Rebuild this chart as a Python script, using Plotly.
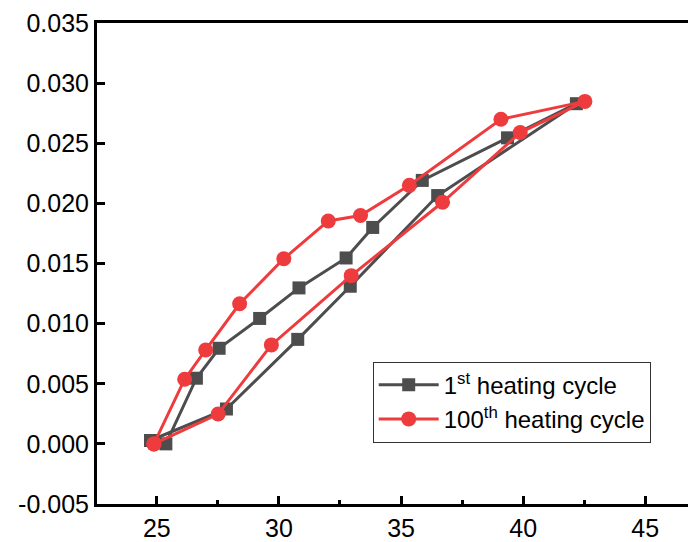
import plotly.graph_objects as go

# 1st heating cycle (squares)
x_first = [24.74, 27.85, 30.77, 32.92, 36.50, 42.18, 39.36, 35.87, 33.84, 32.75, 30.82, 29.21, 27.55, 26.62, 25.37]
y_first = [0.00028, 0.0029, 0.00869, 0.01311, 0.02065, 0.02829, 0.02545, 0.02191, 0.0180, 0.01546, 0.01297, 0.01043, 0.00795, 0.00546, 0.0]

# 100th heating cycle (circles)
x_hundred = [24.88, 26.14, 27.00, 28.39, 30.20, 32.02, 33.34, 35.34, 39.09, 42.53, 39.88, 36.70, 32.96, 29.69, 27.51, 24.88]
y_hundred = [0.0, 0.00538, 0.00781, 0.01165, 0.0154, 0.01854, 0.01899, 0.0215, 0.02699, 0.02848, 0.02589, 0.02009, 0.01399, 0.00823, 0.00248, 0.0]

names = ["1<sup>st</sup> heating cycle", "100<sup>th</sup> heating cycle"]
x_ticks = [25, 30, 35, 40, 45]
y_ticks = [-0.005, 0.000, 0.005, 0.010, 0.015, 0.020, 0.025, 0.030, 0.035]

GRAY = "#4d4d4d"
RED = "#ee3b3e"
FONT = "Liberation Sans, Arial, sans-serif"

fig = go.Figure()
fig.add_trace(go.Scatter(
    x=x_first, y=y_first, mode="lines+markers", name=names[0],
    line=dict(color=GRAY, width=3),
    marker=dict(symbol="square", size=13, color=GRAY),
))
fig.add_trace(go.Scatter(
    x=x_hundred, y=y_hundred, mode="lines+markers", name=names[1],
    line=dict(color=RED, width=3),
    marker=dict(symbol="circle", size=15, color=RED),
))

fig.update_layout(
    width=688, height=542,
    margin=dict(l=97, r=0, t=23, b=36),
    paper_bgcolor="white", plot_bgcolor="white",
    font=dict(family=FONT, size=25, color="black"),
    showlegend=True,
    legend=dict(
        x=0.4665, y=0.296, xanchor="left", yanchor="top",
        bgcolor="white", bordercolor="#333333", borderwidth=1,
        font=dict(family=FONT, size=24, color="black"),
        tracegroupgap=0, itemwidth=60,
    ),
)
fig.update_xaxes(
    range=[22.55, 46.75],
    tickvals=x_ticks, ticktext=[str(v) for v in x_ticks],
    ticks="inside", ticklen=8, tickwidth=2.5, tickcolor="black",
    minor=dict(ticks="inside", ticklen=4, tickwidth=2.5, tickcolor="black", dtick=2.5, tick0=22.5),
    showline=True, linewidth=3, linecolor="black", mirror=True,
    showgrid=False, zeroline=False,
    tickfont=dict(family=FONT, size=25, color="black"),
)
fig.update_yaxes(
    range=[-0.005, 0.035],
    tickvals=y_ticks, ticktext=[f"{v:.3f}" for v in y_ticks],
    ticks="inside", ticklen=8, tickwidth=2.5, tickcolor="black",
    showline=True, linewidth=3, linecolor="black", mirror=False,
    showgrid=False, zeroline=False,
    tickfont=dict(family=FONT, size=25, color="black"),
)

fig.write_html("out.html")
